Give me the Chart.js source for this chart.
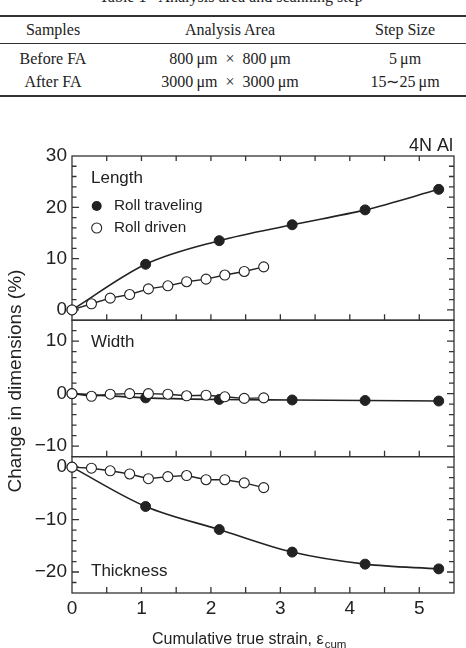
<!DOCTYPE html>
<html>
<head>
<meta charset="utf-8">
<script src="https://cdn.jsdelivr.net/npm/chart.js@4/dist/chart.umd.min.js"></script>
<style>
  html,body{margin:0;padding:0;background:#fff;}
  #wrap{position:relative;width:466px;height:648px;overflow:hidden;background:#fff;}
  #c{position:absolute;left:0;top:0;}
  .tx{position:absolute;font-family:"Liberation Serif","Times New Roman",serif;font-size:16px;line-height:20px;color:#222;white-space:nowrap;text-align:center;}
  .ln{position:absolute;left:0;width:466px;background:#333;}
</style>
</head>
<body>
<div id="wrap">
  <div class="tx" style="left:0;width:462px;top:-13px;">Table 1&nbsp;&nbsp;&nbsp;Analysis area and scanning step</div>
  <div class="ln" style="top:15px;height:2px;"></div>
  <div class="tx" style="left:-47px;width:200px;top:20px;">Samples</div>
  <div class="tx" style="left:130px;width:200px;top:20px;">Analysis Area</div>
  <div class="tx" style="left:305px;width:200px;top:20px;">Step Size</div>
  <div class="ln" style="top:43px;height:1px;"></div>
  <div class="tx" style="left:-47px;width:200px;top:49px;">Before FA</div>
  <div class="tx" style="left:130px;width:200px;top:49px;">800&#8201;μm&nbsp;&nbsp;×&nbsp;&nbsp;800&#8201;μm</div>
  <div class="tx" style="left:305px;width:200px;top:49px;">5&#8201;μm</div>
  <div class="tx" style="left:-47px;width:200px;top:72px;">After FA</div>
  <div class="tx" style="left:130px;width:200px;top:72px;">3000&#8201;μm&nbsp;&nbsp;×&nbsp;&nbsp;3000&#8201;μm</div>
  <div class="tx" style="left:305px;width:200px;top:72px;">15∼25&#8201;μm</div>
  <div class="ln" style="top:95px;height:2px;"></div>
  <canvas id="c" width="466" height="648"></canvas>
</div>
<script>
// ---- data ----
const xTicks = [0, 1, 2, 3, 4, 5];
const lengthTicks = [0, 10, 20, 30];
const widthTicks = [-10, 0, 10];
const thickTicks = [-20, -10, 0];

const travelStrain = [0, 1.06, 2.12, 3.17, 4.22, 5.28];
const drivenStrain = [0, 0.28, 0.55, 0.83, 1.10, 1.38, 1.65, 1.93, 2.20, 2.48, 2.76];

const travelLength = [0, 8.9, 13.5, 16.6, 19.5, 23.5];
const drivenLength = [0, 1.2, 2.3, 3.0, 4.1, 4.7, 5.5, 6.0, 6.8, 7.5, 8.4];
const travelWidth = [0, -0.8, -1.1, -1.2, -1.3, -1.4];
const drivenWidth = [0, -0.5, -0.1, 0, 0, -0.1, -0.4, -0.3, -0.6, -0.9, -0.8];
const travelThick = [0, -7.5, -11.9, -16.2, -18.5, -19.4];
const drivenThick = [0, -0.2, -0.7, -1.3, -2.2, -1.8, -1.6, -2.4, -2.4, -3.0, -3.9];

const panelLabels = ['Length', 'Width', 'Thickness'];
const seriesNames = ['Roll traveling', 'Roll driven'];

const INK = '#222';
const pts = (xs, ys) => xs.map((x, i) => ({x: x, y: ys[i]}));

function filledSet(label, xs, ys, axis) {
  return {label, data: pts(xs, ys), yAxisID: axis, order: 2,
    borderColor: INK, borderWidth: 1.6, backgroundColor: INK,
    pointRadius: 5, pointBackgroundColor: INK, pointBorderColor: INK, pointBorderWidth: 1,
    cubicInterpolationMode: 'monotone', clip: false};
}
function openSet(label, xs, ys, axis) {
  return {label, data: pts(xs, ys), yAxisID: axis, order: 1,
    borderColor: INK, borderWidth: 1.4, backgroundColor: '#fff',
    pointRadius: 5, pointBackgroundColor: '#fff', pointBorderColor: INK, pointBorderWidth: 1.1,
    tension: 0, clip: false};
}

const minus = v => (v < 0 ? '\u2212' + Math.abs(v) : String(v));

function yScale(min, max, weight, ticks) {
  return {
    type: 'linear', position: 'left', stack: 'panels', stackWeight: weight,
    min: min, max: max,
    grid: {display: false, drawTicks: false}, border: {display: false},
    ticks: {font: {family: 'Liberation Sans', size: 19}, color: INK, padding: 5, callback: v => minus(v)},
    afterBuildTicks: s => { s.ticks = ticks.map(v => ({value: v})); },
    afterFit: s => { s.width = 72; }
  };
}

const framePlugin = {
  id: 'frame',
  beforeDatasetsDraw(chart) {
    const ctx = chart.ctx, xs = chart.scales.x;
    const L = chart.chartArea.left, R = chart.chartArea.right;
    const panels = [chart.scales.yL, chart.scales.yW, chart.scales.yT];
    ctx.save();
    ctx.strokeStyle = '#333';
    ctx.lineWidth = 1.3;
    panels.forEach((s, pi) => {
      ctx.strokeRect(L, s.top, R - L, s.bottom - s.top);
      ctx.beginPath();
      for (let v = Math.ceil(s.min / 2) * 2; v <= s.max; v += 2) {
        if (v === s.min || v === s.max) continue;
        const y = s.getPixelForValue(v);
        const major = v % 10 === 0;
        ctx.moveTo(L, y); ctx.lineTo(L + (major ? 7 : 4.5), y);
        ctx.moveTo(R, y); ctx.lineTo(R - (major ? 7 : 5), y);
      }
      for (let v = 0.5; v < xs.max; v += 0.5) {
        const x = xs.getPixelForValue(v);
        ctx.moveTo(x, s.bottom); ctx.lineTo(x, s.bottom - 6);
        if (pi === 0) { ctx.moveTo(x, s.top); ctx.lineTo(x, s.top + 5); }
      }
      ctx.stroke();
    });
    ctx.restore();
  },
  afterDraw(chart) {
    const ctx = chart.ctx;
    const L = chart.chartArea.left, R = chart.chartArea.right;
    ctx.save();
    ctx.fillStyle = INK;
    ctx.textBaseline = 'middle';
    ctx.textAlign = 'left';
    ctx.font = '17px "Liberation Sans"';
    ctx.fillText(panelLabels[0], 91, 178);
    ctx.fillText(panelLabels[1], 91, 342);
    ctx.fillText(panelLabels[2], 91, 571);
    // legend
    ctx.font = '15.3px "Liberation Sans"';
    ctx.beginPath(); ctx.arc(96.7, 206, 5, 0, Math.PI * 2); ctx.fillStyle = INK; ctx.fill();
    ctx.beginPath(); ctx.arc(96.7, 228, 5, 0, Math.PI * 2); ctx.fillStyle = '#fff'; ctx.fill();
    ctx.lineWidth = 1.1; ctx.strokeStyle = INK; ctx.stroke();
    ctx.fillStyle = INK;
    ctx.fillText(seriesNames[0], 114, 206);
    ctx.fillText(seriesNames[1], 114, 228);
    // material label
    ctx.textAlign = 'right';
    ctx.font = '18px "Liberation Sans"';
    ctx.fillText('4N Al', 453, 146);
    // x title with subscript
    ctx.textAlign = 'left';
    ctx.textBaseline = 'alphabetic';
    ctx.font = '16px "Liberation Sans"';
    const main = 'Cumulative true strain, \u03b5';
    ctx.fillText(main, 152, 644);
    const w = ctx.measureText(main).width;
    ctx.font = '11.5px "Liberation Sans"';
    ctx.fillText('cum', 152 + w + 1, 647.5);
    // y title
    ctx.translate(16, 381);
    ctx.rotate(-Math.PI / 2);
    ctx.textAlign = 'center';
    ctx.textBaseline = 'middle';
    ctx.font = '19px "Liberation Sans"';
    ctx.fillText('Change in dimensions (%)', 0, 0);
    ctx.restore();
  }
};

new Chart(document.getElementById('c'), {
  type: 'line',
  data: {
    datasets: [
      openSet(seriesNames[1] + ' length', drivenStrain, drivenLength, 'yL'),
      filledSet(seriesNames[0] + ' length', travelStrain, travelLength, 'yL'),
      openSet(seriesNames[1] + ' width', drivenStrain, drivenWidth, 'yW'),
      filledSet(seriesNames[0] + ' width', travelStrain, travelWidth, 'yW'),
      openSet(seriesNames[1] + ' thickness', drivenStrain, drivenThick, 'yT'),
      filledSet(seriesNames[0] + ' thickness', travelStrain, travelThick, 'yT')
    ]
  },
  options: {
    responsive: false, devicePixelRatio: 1, animation: false,
    layout: {padding: {left: 0, right: 12, top: 156, bottom: 0}},
    plugins: {legend: {display: false}, tooltip: {enabled: false}, title: {display: false}},
    scales: {
      x: {
        type: 'linear', position: 'bottom', min: 0, max: 5.5,
        grid: {display: false, drawTicks: false}, border: {display: false},
        ticks: {font: {family: 'Liberation Sans', size: 19}, color: INK, padding: 4, maxRotation: 0},
        afterBuildTicks: s => { s.ticks = xTicks.map(v => ({value: v})); },
        afterFit: s => { s.height = 55; }
      },
      yT: yScale(-24, 2, 136.6, thickTicks),
      yW: yScale(-12, 14, 136.7, widthTicks),
      yL: yScale(-2, 30, 164.5, lengthTicks)
    }
  },
  plugins: [framePlugin]
});
</script>
</body>
</html>
